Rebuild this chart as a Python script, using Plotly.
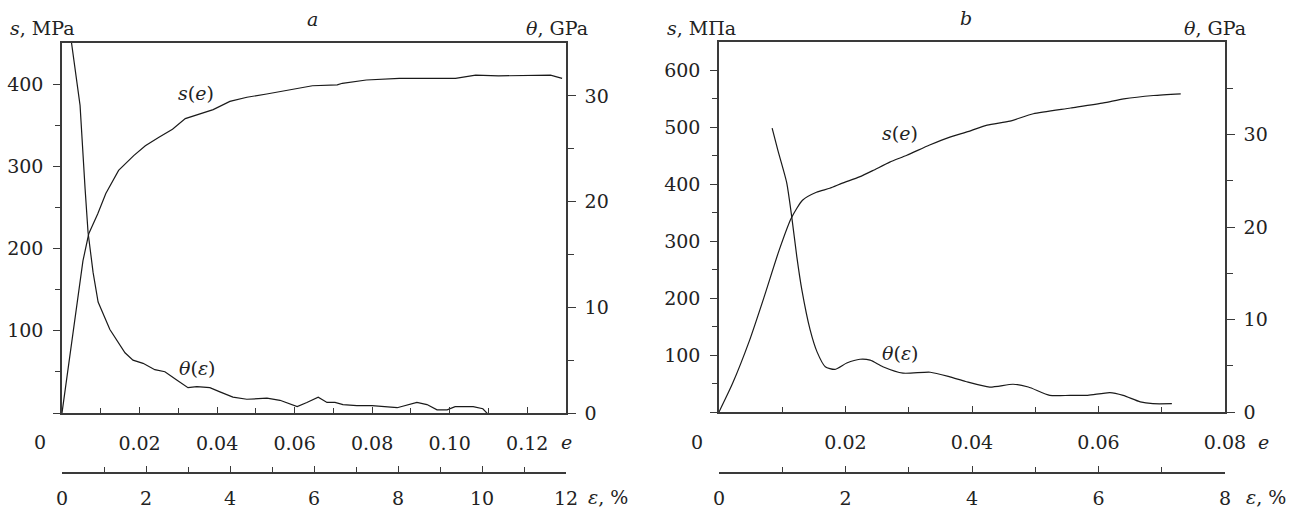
import plotly.graph_objects as go

W, H = 1302, 517

# ---------------- Panel a data ----------------
a_e = [0, 0.0028, 0.0054, 0.0069, 0.0092, 0.0113, 0.0146, 0.0185, 0.0215, 0.0249, 0.0285,
       0.0318, 0.0344, 0.039, 0.0433, 0.0477, 0.0528, 0.0595, 0.0646,
       0.071, 0.0723, 0.0785, 0.087, 0.1015, 0.1067, 0.1126, 0.121, 0.126, 0.129]
a_s = [0, 97, 185, 218, 242, 267, 295, 313, 325, 335, 345,
       358, 362, 369, 379, 384, 388, 394, 398,
       399, 401, 405, 407, 407, 411, 410, 411, 411, 407]

a_eps = [0.21, 0.43, 0.55, 0.62, 0.74, 0.86, 1.14, 1.50, 1.69, 1.93, 2.21, 2.45, 2.74,
         3.0, 3.21, 3.52, 3.76, 4.07, 4.40, 4.88, 5.19, 5.60, 5.83, 6.10, 6.31, 6.5, 6.69,
         7.02, 7.38, 7.98, 8.45, 8.69, 8.93, 9.17, 9.36, 9.79, 10.02, 10.14, 10.26, 10.55]
a_theta = [35.5, 29.1, 21.2, 17.1, 13.3, 10.5, 7.9, 5.7, 5.0, 4.7, 4.1, 3.9, 3.1,
           2.4, 2.5, 2.4, 2.0, 1.5, 1.3, 1.4, 1.2, 0.6, 1.0, 1.5, 1.0, 1.0, 0.8,
           0.7, 0.7, 0.5, 1.0, 0.8, 0.3, 0.3, 0.6, 0.6, 0.4, -0.1, -0.3, -0.6]

# ---------------- Panel b data ----------------
b_e = [0, 0.0021, 0.0048, 0.0071, 0.0095, 0.0114, 0.0132, 0.0154, 0.0175, 0.0195, 0.0222,
       0.0243, 0.027, 0.0297, 0.0333, 0.0365, 0.0395, 0.0424, 0.046, 0.0497, 0.0556, 0.0608,
       0.064, 0.0687, 0.073]
b_s = [0, 49, 125, 201, 284, 340, 372, 386, 393, 402, 413,
       424, 439, 451, 469, 483, 493, 504, 511, 524, 534, 543,
       550, 556, 559]

b_eps = [0.84, 0.93, 1.07, 1.15, 1.23, 1.31, 1.44, 1.55, 1.68, 1.83, 2.02, 2.23, 2.39, 2.59, 2.91,
         3.34, 3.65, 3.90, 4.28, 4.65, 4.89, 5.23, 5.55, 5.83, 6.18, 6.39, 6.66, 6.86, 7.16]
b_theta = [30.7, 28.3, 24.8, 21.1, 16.8, 13.2, 8.9, 6.5, 4.9, 4.6, 5.3, 5.7, 5.6, 4.9, 4.2,
           4.3, 3.8, 3.3, 2.7, 3.0, 2.7, 1.8, 1.8, 1.8, 2.1, 1.8, 1.1, 0.9, 0.9]

# tick labels
a_e_ticks = [0.02, 0.04, 0.06, 0.08, 0.10, 0.12]
a_e_text = ["0.02", "0.04", "0.06", "0.08", "0.10", "0.12"]
a_eps_ticks = [0, 2, 4, 6, 8, 10, 12]
a_s_ticks = [0, 100, 200, 300, 400]
a_s_text = ["", "100", "200", "300", "400"]
a_th_ticks = [0, 10, 20, 30]

b_e_ticks = [0.02, 0.04, 0.06, 0.08]
b_e_text = ["0.02", "0.04", "0.06", "0.08"]
b_eps_ticks = [0, 2, 4, 6, 8]
b_s_ticks = [0, 100, 200, 300, 400, 500, 600]
b_s_text = ["", "100", "200", "300", "400", "500", "600"]
b_th_ticks = [0, 10, 20, 30]

FONT = '"DejaVu Serif", "Liberation Serif", serif'
AXC = "#3a3a3a"
LC = "#1a1a1a"
FS = 19


def px_x(p):
    return p / W


def px_y(p):
    return 1 - p / H


dom_a = [px_x(62), px_x(566)]
dom_b = [px_x(719), px_x(1225)]
ydom_a = [px_y(413), px_y(43)]
ydom_b = [px_y(412), px_y(42)]
eps_pos = px_y(473)

fig = go.Figure()
line = dict(color=LC, width=1.2)
sline = dict(color=LC, width=1.2, shape="spline", smoothing=0.6)
fig.add_trace(go.Scatter(x=a_e, y=a_s, mode="lines", line=line, xaxis="x", yaxis="y", showlegend=False))
fig.add_trace(go.Scatter(x=a_eps, y=a_theta, mode="lines", line=line, xaxis="x2", yaxis="y2", showlegend=False))
fig.add_trace(go.Scatter(x=b_e, y=b_s, mode="lines", line=sline, xaxis="x3", yaxis="y3", showlegend=False))
fig.add_trace(go.Scatter(x=b_eps, y=b_theta, mode="lines", line=sline, xaxis="x4", yaxis="y4", showlegend=False))

tf = dict(family=FONT, size=FS, color="#222")
common = dict(showgrid=False, zeroline=False, showline=True, linecolor=AXC, linewidth=1.5,
              tickcolor=AXC, tickwidth=1.3, tickfont=tf, tickmode="array", automargin=False)


def minor(vals, ticks, ln):
    return dict(tickmode="array", tickvals=vals, ticks=ticks, ticklen=ln, tickcolor=AXC, tickwidth=1.3, showgrid=False)


fig.update_layout(
    width=W, height=H, margin=dict(l=0, r=0, t=0, b=0, autoexpand=False),
    paper_bgcolor="white", plot_bgcolor="white",
    xaxis=dict(domain=dom_a, anchor="y", range=[0, 0.13], mirror=True, ticks="inside", ticklen=6,
               tickvals=a_e_ticks, ticktext=a_e_text, ticklabelstandoff=12,
               minor=minor([0.01, 0.03, 0.05, 0.07, 0.09, 0.11], "inside", 5), **common),
    yaxis=dict(domain=ydom_a, anchor="x", range=[0, 450], ticks="outside", ticklen=7,
               tickvals=a_s_ticks, ticktext=a_s_text, ticklabelstandoff=6,
               minor=minor([50, 150, 250, 350], "outside", 5), **common),
    yaxis2=dict(overlaying="y", anchor="x", side="right", range=[0, 35], ticks="outside", ticklen=8,
                tickvals=a_th_ticks, ticklabelstandoff=5,
                minor=minor([5, 15, 25], "outside", 6), **common),
    xaxis2=dict(overlaying="x", anchor="free", position=eps_pos, side="bottom", range=[0, 12],
                ticks="inside", ticklen=6, tickvals=a_eps_ticks, ticklabelstandoff=8,
                minor=minor([1, 3, 5, 7, 9, 11], "inside", 5), **common),
    xaxis3=dict(domain=dom_b, anchor="y3", range=[0, 0.08], mirror=True, ticks="inside", ticklen=6,
                tickvals=b_e_ticks, ticktext=b_e_text, ticklabelstandoff=12,
                minor=minor([0.01, 0.03, 0.05, 0.07], "inside", 5), **common),
    yaxis3=dict(domain=ydom_b, anchor="x3", range=[0, 650], ticks="outside", ticklen=7,
                tickvals=b_s_ticks, ticktext=b_s_text, ticklabelstandoff=6,
                minor=minor([50, 150, 250, 350, 450, 550], "outside", 5), **common),
    yaxis4=dict(overlaying="y3", anchor="x3", side="right", range=[0, 40], ticks="outside", ticklen=8,
                tickvals=b_th_ticks, ticklabelstandoff=5,
                minor=minor([5, 15, 25, 35], "outside", 6), **common),
    xaxis4=dict(overlaying="x3", anchor="free", position=eps_pos, side="bottom", range=[0, 8],
                ticks="inside", ticklen=6, tickvals=b_eps_ticks, ticklabelstandoff=8,
                minor=minor([1, 3, 5, 7], "inside", 5), **common),
)

ann_font = dict(family=FONT, size=FS, color="#222")


def ann(text, x, y, xanchor="center"):
    fig.add_annotation(text=text, x=px_x(x), y=px_y(y), xref="paper", yref="paper",
                       showarrow=False, xanchor=xanchor, yanchor="middle", font=ann_font)


ann("<i>a</i>", 312, 19)
ann("<i>b</i>", 966, 18)
ann("<i>s</i>, MPa", 8, 28, "left")
ann("<i>θ</i>, GPa", 524, 28, "left")
ann("<i>s</i>, МПа", 665, 28, "left")
ann("<i>θ</i>, GPa", 1182, 28, "left")
ann("<i>s</i>(<i>e</i>)", 196, 93)
ann("<i>θ</i>(<i>ε</i>)", 197, 368)
ann("<i>s</i>(<i>e</i>)", 900, 133)
ann("<i>θ</i>(<i>ε</i>)", 900, 353)
ann("0", 40, 442)
ann("0", 697, 442)
ann("<i>e</i>", 566, 442)
ann("<i>e</i>", 1263, 442)
ann("<i>ε</i>, %", 586, 497, "left")
ann("<i>ε</i>, %", 1244, 497, "left")

fig.write_html("out.html")
